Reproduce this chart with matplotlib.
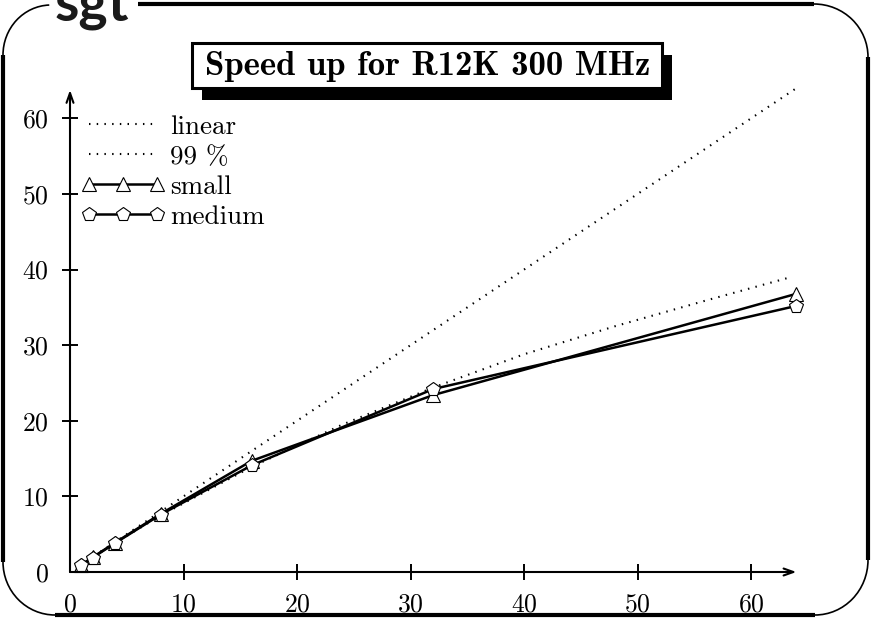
import matplotlib
matplotlib.use("Agg")
import matplotlib.pyplot as plt
from matplotlib.patches import Rectangle, Arc

plt.rcParams["font.family"] = "cmr10"
plt.rcParams["axes.formatter.use_mathtext"] = True
plt.rcParams["mathtext.fontset"] = "cm"

# processor counts and measured speed-ups
procs = [1, 2, 4, 8, 16, 32, 64]
small = [0.95, 1.95, 3.9, 7.7, 14.7, 23.4, 36.8]
medium = [0.9, 1.9, 3.85, 7.6, 14.1, 24.2, 35.2]

# ideal and 99 % parallel reference curves
linear_x = [1, 64]
linear_y = [1, 64]
p99_x = [1, 2, 4, 8, 16, 24, 32, 40, 48, 56, 63.5]
p99_y = [1.0, 1.98, 3.88, 7.48, 13.9, 19.5, 24.4, 28.8, 32.5, 35.9, 39.0]

xticks = [0, 10, 20, 30, 40, 50, 60]
yticks = [0, 10, 20, 30, 40, 50, 60]
title = "Speed up for R12K 300 MHz"

W, H = 871, 618
fig = plt.figure(figsize=(W / 100, H / 100), dpi=100)

# overlay in pixel coordinates for the frame and title box
ov = fig.add_axes([0, 0, 1, 1], zorder=0)
ov.set_xlim(0, W)
ov.set_ylim(H, 0)
ov.axis("off")

thick = 3.0
thin = 1.2
# straight frame edges
ov.plot([138, 814], [4, 4], color="black", lw=thick, solid_capstyle="butt")
ov.plot([3, 3], [55, 562], color="black", lw=thick, solid_capstyle="butt")
ov.plot([55, 815], [615, 615], color="black", lw=thick, solid_capstyle="butt")
ov.plot([868, 868], [57, 560], color="black", lw=thick, solid_capstyle="butt")
# rounded corners
ov.add_patch(Arc((51, 55), 96, 100, theta1=180, theta2=268, color="black", lw=thin))
ov.add_patch(Arc((55, 562), 104, 106, theta1=90, theta2=180, color="black", lw=thin))
ov.add_patch(Arc((815, 560), 106, 110, theta1=0, theta2=90, color="black", lw=thin))
ov.add_patch(Arc((814, 57), 108, 106, theta1=270, theta2=360, color="black", lw=thin))
ov.text(55, 21, "sgt", family="Lato", fontweight="bold", fontsize=40, color="#1a1a1a",
        ha="left", va="baseline", clip_on=False)

# title box with drop shadow
ov.add_patch(Rectangle((202, 55), 470, 45, facecolor="black", edgecolor="none"))
ov.add_patch(Rectangle((192, 43), 470, 45, facecolor="white", edgecolor="black", lw=2.2))
ov.text(428, 66, title, family="cmb10", fontsize=25, ha="center", va="center")

# main plot area
x0, x1 = 70, 796.4
y0, y1 = 572, 90
ax = fig.add_axes([x0 / W, (H - y0) / H, (x1 - x0) / W, (y0 - y1) / H], zorder=1)
ax.patch.set_alpha(0)
ax.set_xlim(0, 64)
ax.set_ylim(0, (y0 - y1) / 7.56)
for s in ax.spines.values():
    s.set_visible(False)

dot = (0, (0.7, 3.0))
h_lin, = ax.plot(linear_x, linear_y, color="black", lw=1.5, linestyle=dot,
                 label="linear", clip_on=False)
h_99, = ax.plot(p99_x, p99_y, color="black", lw=1.5, linestyle=dot,
                label="99 %", clip_on=False)
h_s, = ax.plot(procs, small, color="black", lw=1.8, marker="^", markersize=10,
               markerfacecolor="white", markeredgewidth=0.8, label="small", clip_on=False)
h_m, = ax.plot(procs, medium, color="black", lw=1.8, marker="p", markersize=10,
               markerfacecolor="white", markeredgewidth=0.8, label="medium", clip_on=False)

# axes drawn as arrows
arrow = dict(arrowstyle="->,head_length=0.7,head_width=0.25", lw=1.5, color="black",
             shrinkA=0, shrinkB=0)
ax.annotate("", xy=(1, 0), xytext=(0, 0), xycoords="axes fraction", arrowprops=arrow)
ax.annotate("", xy=(0, 1), xytext=(0, 0), xycoords="axes fraction", arrowprops=arrow)

ax.set_xticks(xticks)
ax.set_yticks(yticks)
ax.tick_params(direction="inout", length=12, width=1.4, labelsize=18.5, pad=9)
ax.xaxis.get_major_ticks()[0].tick1line.set_visible(False)
ax.yaxis.get_major_ticks()[0].tick1line.set_visible(False)

leg = ax.legend(handles=[h_lin, h_99, h_s, h_m], loc="upper left",
                bbox_to_anchor=(81 / W, 1 - 115 / H), bbox_transform=fig.transFigure,
                frameon=False, fontsize=19.5, numpoints=3, handlelength=3.1,
                handletextpad=0.2, borderpad=0, borderaxespad=0, labelspacing=0.22)

fig.savefig("out.png", dpi=100)
